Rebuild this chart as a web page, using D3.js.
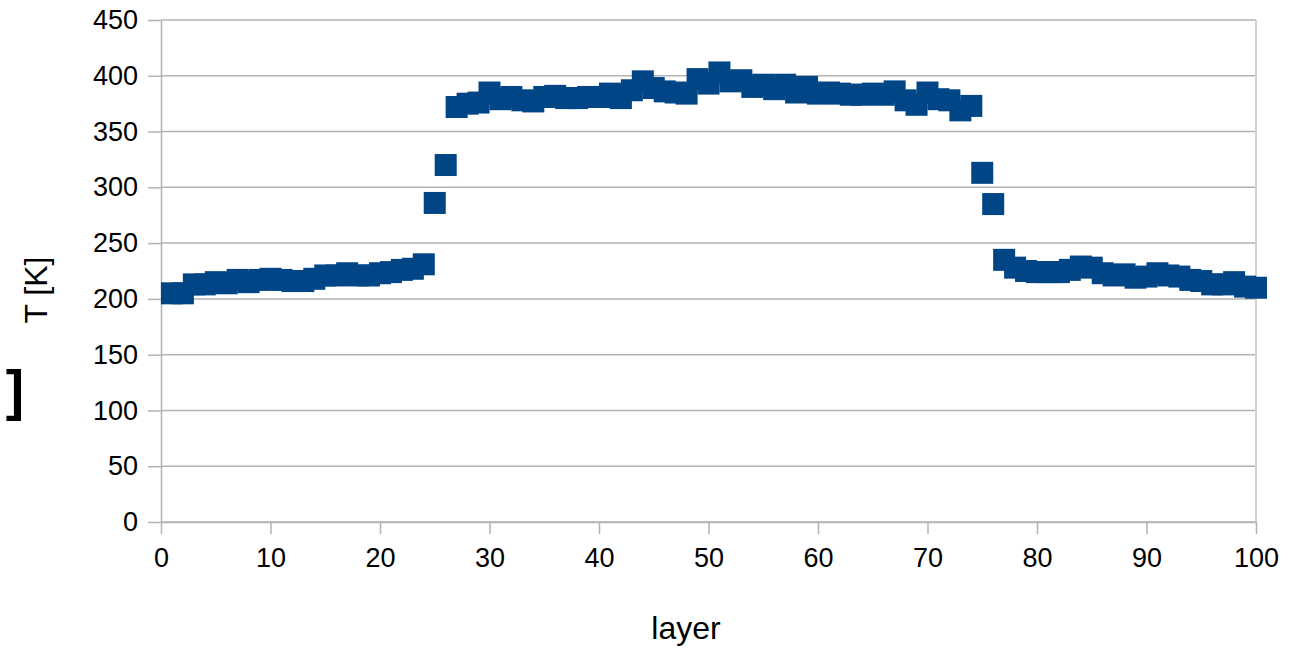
<!DOCTYPE html>
<html>
<head>
<meta charset="utf-8">
<script src="https://cdn.jsdelivr.net/npm/d3@7"></script>
<style>
  body { margin: 0; background: #fff; }
  text { font-family: "Liberation Sans", Arial, sans-serif; fill: #000; }
</style>
</head>
<body>
<div id="plot"></div>
<script>
// temperature per layer, layers 1..100
var layers = d3.range(1, 101);
var temps = [
  205, 205, 213, 213, 215, 214, 217, 215, 217, 218,
  217, 216, 216, 218, 221, 221, 223, 221, 221, 223,
  224, 226, 227, 231, 286, 320, 372, 375, 376, 385,
  379, 381, 378, 377, 381, 382, 380, 380, 381, 381,
  384, 380, 387, 395, 389, 386, 385, 384, 397, 393,
  403, 395, 396, 390, 392, 388, 392, 385, 390, 384,
  385, 384, 383, 383, 384, 383, 386, 378, 374, 385,
  379, 378, 369, 373, 313, 285, 235, 228, 225, 224,
  224, 224, 226, 229, 228, 223, 221, 222, 219, 220,
  223, 221, 220, 217, 216, 213, 213, 215, 211, 210
];
var xTicks = d3.range(0, 101, 10);
var yTicks = d3.range(0, 451, 50);

var width = 1296, height = 648;
var margin = {top: 20, right: 40, bottom: 126, left: 161};

var svg = d3.select("#plot").append("svg")
    .attr("width", width)
    .attr("height", height);

var xScale = d3.scaleLinear()
    .domain([0, 100])
    .range([margin.left, width - margin.right]);
var yScale = d3.scaleLinear()
    .domain([0, 450])
    .range([height - margin.bottom, margin.top]);

var grey = "#b3b3b3";

// horizontal grid
svg.append("g")
  .selectAll("line")
  .data(yTicks)
  .join("line")
    .attr("x1", xScale(0))
    .attr("x2", xScale(100))
    .attr("y1", d => yScale(d))
    .attr("y2", d => yScale(d))
    .attr("stroke", grey)
    .attr("stroke-width", 1.5);

// right wall line
svg.append("line")
    .attr("x1", xScale(100)).attr("x2", xScale(100))
    .attr("y1", yScale(450)).attr("y2", yScale(0))
    .attr("stroke", "#d0d0d0")
    .attr("stroke-width", 2);

var xAxis = svg.append("g")
    .attr("transform", "translate(0," + yScale(0) + ")")
    .call(d3.axisBottom(xScale).tickValues(xTicks).tickSize(12).tickPadding(14).tickSizeOuter(0));
var yAxis = svg.append("g")
    .attr("transform", "translate(" + xScale(0) + ",0)")
    .call(d3.axisLeft(yScale).tickValues(yTicks).tickSize(13).tickPadding(10).tickSizeOuter(0));

[xAxis, yAxis].forEach(function(ax){
  ax.selectAll(".domain").attr("stroke", grey).attr("stroke-width", 1.5);
  ax.selectAll(".tick line").attr("stroke", grey).attr("stroke-width", 1.5);
  ax.selectAll(".tick text")
    .attr("font-size", 27)
    .attr("font-family", "Liberation Sans, Arial, sans-serif")
    .attr("fill", "#000");
});

// markers
var size = 22;
svg.append("g")
  .selectAll("rect")
  .data(layers)
  .join("rect")
    .attr("x", (d, i) => xScale(d) - size / 2)
    .attr("y", (d, i) => yScale(temps[i]) - size / 2)
    .attr("width", size)
    .attr("height", size)
    .attr("fill", "#004586");

// axis titles
svg.append("text")
    .attr("x", 686)
    .attr("y", 639)
    .attr("text-anchor", "middle")
    .attr("font-size", 32)
    .text("layer");

svg.append("text")
    .attr("transform", "translate(47," + 290 + ") rotate(-90)")
    .attr("text-anchor", "middle")
    .attr("font-size", 32)
    .text("T [K]");

// clipped bracket at the left edge
svg.append("text")
    .attr("x", 24)
    .attr("y", 409)
    .attr("text-anchor", "end")
    .attr("font-size", 55)
    .attr("font-weight", "bold")
    .text("]");
</script>
</body>
</html>
